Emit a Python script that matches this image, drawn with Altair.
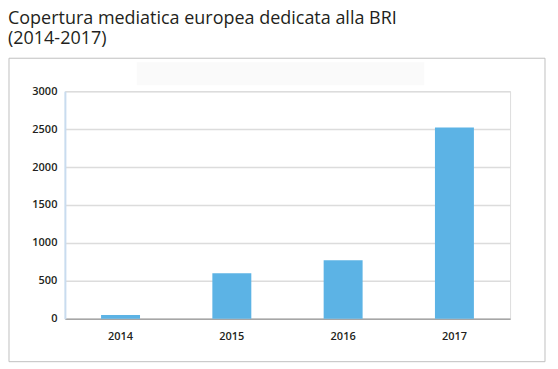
import altair as alt
import pandas as pd

years = ["2014", "2015", "2016", "2017"]
articles = [50, 600, 770, 2520]
y_ticks = [0, 500, 1000, 1500, 2000, 2500, 3000]
title_lines = ["Copertura mediatica europea dedicata alla BRI", "(2014-2017)"]

df = pd.DataFrame({"anno": years, "valore": articles})
one = pd.DataFrame({"k": [0]})

FONT = "Open Sans"
TXT = "#231f20"

box = alt.Chart(one).mark_rect(fill=None, stroke="#c0c0c0", strokeWidth=1).encode(
    x=alt.value(-56), x2=alt.value(481), y=alt.value(-33), y2=alt.value(271)
)
ghost = alt.Chart(one).mark_rect(fill="#fafafa").encode(
    x=alt.value(72), x2=alt.value(360), y=alt.value(-29), y2=alt.value(-6)
)

bars = alt.Chart(df).mark_bar(color="#5cb3e5").encode(
    x=alt.X(
        "anno:N",
        sort=years,
        title=None,
        scale=alt.Scale(paddingInner=0.65, paddingOuter=0.325),
        axis=alt.Axis(
            labelAngle=0,
            ticks=False,
            grid=False,
            domainColor="#a6a6a6",
            domainWidth=1.5,
            labelPadding=12,
            labelFont=FONT,
            labelFontSize=11,
            labelFontWeight=600,
            labelColor=TXT,
        ),
    ),
    y=alt.Y(
        "valore:Q",
        title=None,
        scale=alt.Scale(domain=[0, 3000], nice=False),
        axis=alt.Axis(
            values=y_ticks,
            format="d",
            ticks=False,
            grid=True,
            gridColor="#dcdcdc",
            gridWidth=1.5,
            domainColor="#c9dcef",
            domainWidth=2,
            labelPadding=8,
            labelFont=FONT,
            labelFontSize=11,
            labelFontWeight=600,
            labelColor=TXT,
        ),
    ),
)

chart = (
    alt.layer(box, ghost, bars)
    .properties(
        width=446,
        height=228,
        padding={"left": 57, "top": 83, "right": 40, "bottom": 44},
        autosize=alt.AutoSizeParams(type="none"),
        title=alt.TitleParams(
            text=title_lines,
            anchor="start",
            frame="group",
            dx=-57,
            dy=6,
            offset=2,
            baseline="alphabetic",
            font=FONT,
            fontSize=18,
            fontWeight="normal",
            color=TXT,
            lineHeight=20,
        ),
    )
    .configure_view(stroke=None)
    .configure(background="white")
)

chart.save("out.html", embed_options={"renderer": "svg", "actions": False})
